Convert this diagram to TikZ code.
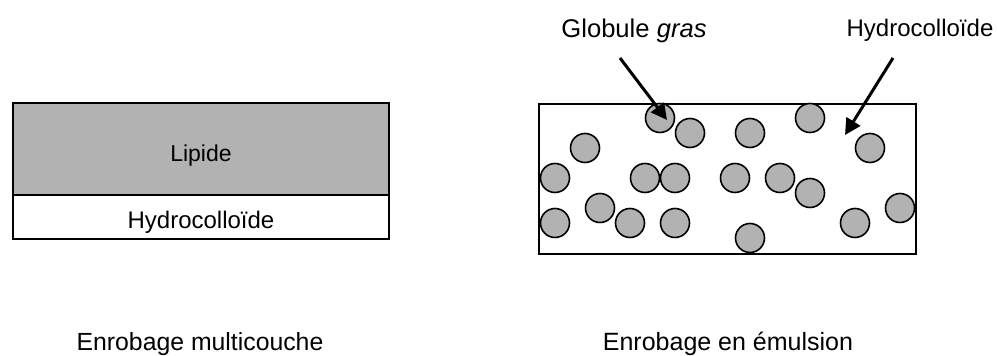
\documentclass[tikz,border=0pt]{standalone}
\usepackage{fontspec}
\setmainfont{Liberation Sans}
\usetikzlibrary{arrows.meta, positioning}
\definecolor{grislipide}{RGB}{178,178,178}

\begin{document}
\begin{tikzpicture}[x=0.5pt, y=-0.5pt,
    couche/.style={draw, line width=1pt, inner sep=0pt, minimum width=188pt},
    globule/.style={circle, draw, line width=0.8pt, fill=grislipide, minimum size=14.5pt, inner sep=0pt},
    fleche/.style={-{Triangle[length=8pt,width=8pt]}, line width=1.5pt},
    texte/.style={anchor=base, inner sep=0pt, font=\fontsize{12}{14}\selectfont}]

            \useasboundingbox (0,0) rectangle (997,356);

            % Enrobage multicouche
            \node[couche, fill=grislipide, minimum height=46pt] (lipide) at (201,149) {}; % couche lipide
            \node[couche, minimum height=22pt] (hydro) at (201,217) {}; % couche hydrocolloide
            \node[texte, font=\fontsize{11.5}{14}\selectfont] (tlipide) at (201,162) {Lipide};
            \node[texte] (thydro) at (201,229) {Hydrocolloïde};

            % Enrobage en emulsion
            \node[draw, line width=1pt, inner sep=0pt, minimum width=188.5pt, minimum height=75pt] (emulsion) at (727.5,179) {};

            % Globules gras
            \foreach \x/\y [count=\i] in {660/118, 690/133, 585/148, 750/133, 810/118, 870/148,
                555/178, 645/178, 675/178, 735/178, 780/178, 810/193, 600/208,
                555/223, 630/223, 675/223, 750/238, 855/223, 900/208}
                \node[globule] (g\i) at (\x,\y) {};

            % Etiquettes et fleches
            \node[texte, font=\fontsize{12.8}{15}\selectfont] (tglobule) at (634,38) {Globule \textit{gras}};
            \node[texte] (tmatrice) at (920,37) {Hydrocolloïde};
            \coordinate (dglobule) at (620,58);
            \coordinate (pglobule) at (667,120);
            \coordinate (dmatrice) at (893,58);
            \coordinate (pmatrice) at (845,135);
            \draw[fleche] (dglobule) -- (pglobule);
            \draw[fleche] (dmatrice) -- (pmatrice);

            % Legendes
            \node[texte, font=\fontsize{12.4}{15}\selectfont] (cmulti) at (200,351) {Enrobage multicouche};
            \node[texte, font=\fontsize{12.5}{15}\selectfont] (cemul) at (728,351) {Enrobage en émulsion};

\end{tikzpicture}
\end{document}
